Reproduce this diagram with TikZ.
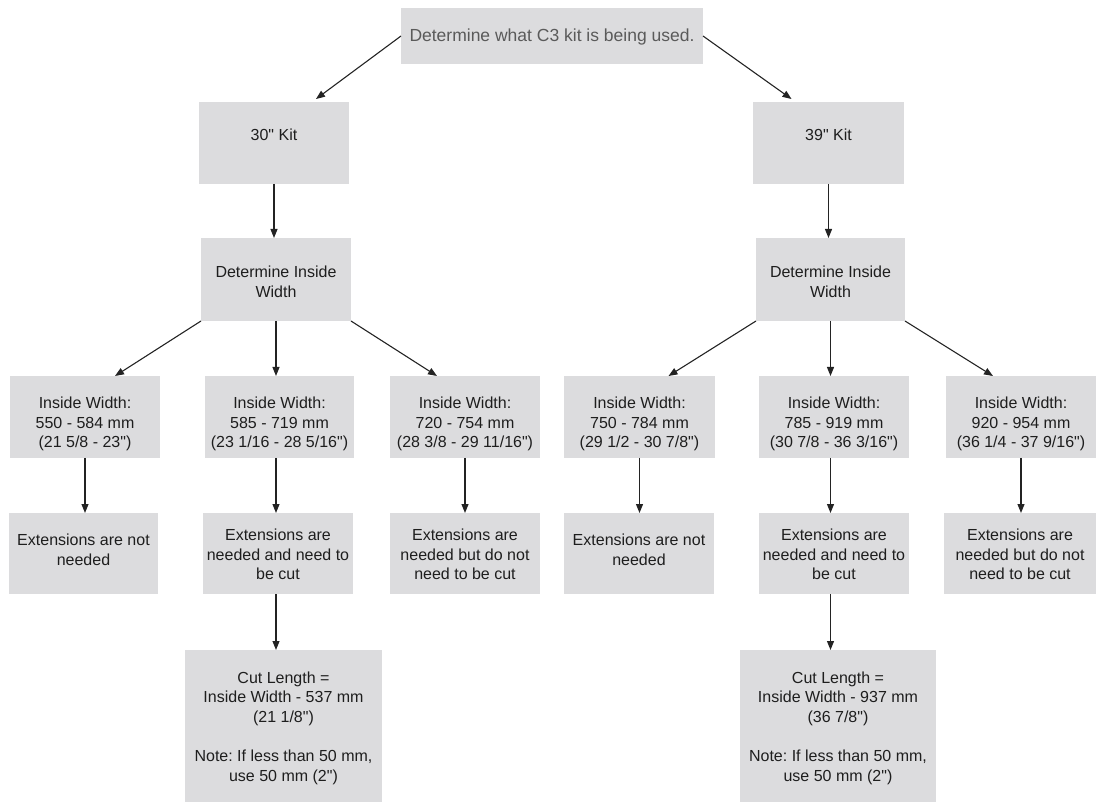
\documentclass[tikz,border=0pt]{standalone}
\usepackage{fontspec}
\setmainfont{Liberation Sans}[Ligatures=TeXOff]
\usetikzlibrary{arrows.meta,calc}
\definecolor{boxfill}{RGB}{220,220,222}
\definecolor{txtc}{RGB}{30,30,30}
\definecolor{toptxt}{RGB}{90,90,90}
\definecolor{linec}{RGB}{35,35,35}
\frenchspacing
\begin{document}
\begin{tikzpicture}[x=1pt,y=-1pt,
  box/.style={fill=boxfill, draw=none, inner sep=0pt, outer sep=0pt},
  lbl/.style={text=txtc, font=\fontsize{16}{19.6}\selectfont, align=center, inner sep=0pt},
  toplbl/.style={text=toptxt, font=\fontsize{17.5}{21}\selectfont, align=center, inner sep=0pt},
  conn/.style={draw=linec, line width=1.1pt, -{Triangle[length=9pt,width=7pt]}}]
\useasboundingbox (0,0) rectangle (1096,802);
% boxes
\node[box, minimum width=302pt, minimum height=56pt] (top) at (552,36) {};
\node[box, minimum width=150pt, minimum height=82pt] (k30) at (274,143) {};
\node[box, minimum width=151pt, minimum height=82pt] (k39) at (828.5,143) {};
\node[box, minimum width=150pt, minimum height=83pt] (dL) at (276,279.5) {};
\node[box, minimum width=149pt, minimum height=83pt] (dR) at (830.5,279.5) {};
\node[box, minimum width=150pt, minimum height=82pt] (iw1) at (85,417) {};
\node[box, minimum width=149pt, minimum height=82pt] (iw2) at (279.5,417) {};
\node[box, minimum width=150pt, minimum height=82pt] (iw3) at (465,417) {};
\node[box, minimum width=151pt, minimum height=82pt] (iw4) at (639.5,417) {};
\node[box, minimum width=150pt, minimum height=82pt] (iw5) at (834,417) {};
\node[box, minimum width=151pt, minimum height=82pt] (iw6) at (1021,417) {};
\node[box, minimum width=149pt, minimum height=81pt] (ext1) at (83.5,553.5) {};
\node[box, minimum width=150pt, minimum height=81pt] (ext2) at (278,553.5) {};
\node[box, minimum width=150pt, minimum height=81pt] (ext3) at (465,553.5) {};
\node[box, minimum width=150pt, minimum height=81pt] (ext4) at (639,553.5) {};
\node[box, minimum width=150pt, minimum height=81pt] (ext5) at (834,553.5) {};
\node[box, minimum width=152pt, minimum height=81pt] (ext6) at (1020,553.5) {};
\node[box, minimum width=197pt, minimum height=152pt] (cut1) at (283.5,726) {};
\node[box, minimum width=196pt, minimum height=152pt] (cut2) at (838,726) {};
% texts
\node[toplbl] (ttop) at (552,37) {Determine what C3 kit is being used.};
\node[lbl] (tk30) at (274,135) {30" Kit};
\node[lbl] (tk39) at (828.5,135) {39" Kit};
\node[lbl] (tdL) at (276,281.5) {Determine Inside\\Width};
\node[lbl] (tdR) at (830.5,281.5) {Determine Inside\\Width};
\node[lbl] (tiw1) at (85,424) {Inside Width:\\550 - 584 mm\\(21 5/8 - 23")};
\node[lbl] (tiw2) at (279.5,424) {Inside Width:\\585 - 719 mm\\(23 1/16 - 28 5/16")};
\node[lbl] (tiw3) at (465,424) {Inside Width:\\720 - 754 mm\\(28 3/8 - 29 11/16")};
\node[lbl] (tiw4) at (639.5,424) {Inside Width:\\750 - 784 mm\\(29 1/2 - 30 7/8")};
\node[lbl] (tiw5) at (834,424) {Inside Width:\\785 - 919 mm\\(30 7/8 - 36 3/16")};
\node[lbl] (tiw6) at (1021,424) {Inside Width:\\920 - 954 mm\\(36 1/4 - 37 9/16")};
\node[lbl] (text1) at (83.5,549.5) {Extensions are not\\needed};
\node[lbl] (text2) at (278,554.5) {Extensions are\\needed and need to\\be cut};
\node[lbl] (text3) at (465,554.5) {Extensions are\\needed but do not\\need to be cut};
\node[lbl] (text4) at (639,549.5) {Extensions are not\\needed};
\node[lbl] (text5) at (834,554.5) {Extensions are\\needed and need to\\be cut};
\node[lbl] (text6) at (1020,554.5) {Extensions are\\needed but do not\\need to be cut};
\node[lbl] (tcut1) at (283.5,728) {Cut Length =\\Inside Width - 537 mm\\(21 1/8")\\[19.6pt]Note: If less than 50 mm,\\use 50 mm (2")};
\node[lbl] (tcut2) at (838,728) {Cut Length =\\Inside Width - 937 mm\\(36 7/8")\\[19.6pt]Note: If less than 50 mm,\\use 50 mm (2")};
% connectors
\draw[conn] (top.west) -- ($(k30.north)+(42,-3)$);
\draw[conn] (top.east) -- ($(k39.north)+(-37,-3)$);
\draw[conn] (k30.south) -- (k30.south |- dL.north);
\draw[conn] (k39.south) -- (k39.south |- dR.north);
\draw[conn] (dL.south west) -- ($(iw1.north)+(30,0)$);
\draw[conn] (dL.south) -- (dL.south |- iw2.north);
\draw[conn] (dL.south east) -- ($(iw3.north)+(-28,0)$);
\draw[conn] (dR.south west) -- ($(iw4.north)+(29,0)$);
\draw[conn] (dR.south) -- (dR.south |- iw5.north);
\draw[conn] (dR.south east) -- ($(iw6.north)+(-28,0)$);
\draw[conn] (iw1.south) -- (iw1.south |- ext1.north);
\draw[conn] (iw2.south -| dL.south) -- (ext2.north -| dL.south);
\draw[conn] (iw3.south) -- (iw3.south |- ext3.north);
\draw[conn] (iw4.south) -- (iw4.south |- ext4.north);
\draw[conn] (iw5.south -| dR.south) -- (ext5.north -| dR.south);
\draw[conn] (iw6.south) -- (iw6.south |- ext6.north);
\draw[conn] (ext2.south -| dL.south) -- (cut1.north -| dL.south);
\draw[conn] (ext5.south -| dR.south) -- (cut2.north -| dR.south);
\end{tikzpicture}
\end{document}
